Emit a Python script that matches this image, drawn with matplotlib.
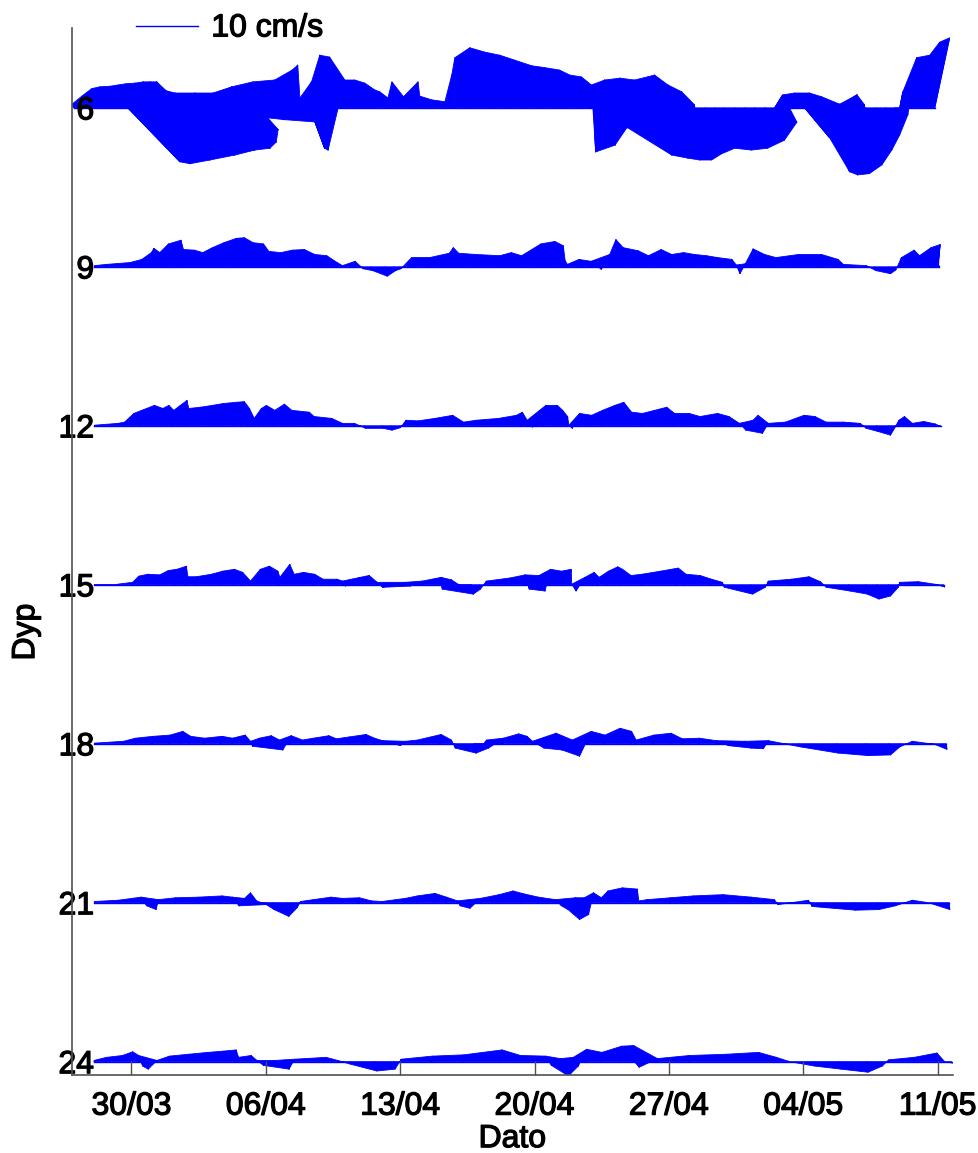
import matplotlib
matplotlib.use("Agg")
import numpy as np
import matplotlib.pyplot as plt
import matplotlib.dates as mdates
import matplotlib.patheffects as pe
from matplotlib.collections import PolyCollection, LineCollection
from matplotlib.transforms import blended_transform_factory
from datetime import datetime

plt.rcParams['font.family'] = ['Liberation Sans', 'DejaVu Sans']

# Current vectors per depth: (days after 27/03, east u [cm/s], north v [cm/s])
STICKS_6 = [
    (0.00, -0.3, 0.6), (0.32, 0.3, 1.9), (0.73, 0.6, 3.1), (1.15, 0.6, 3.4), (1.57, 1.0, 3.5),
    (1.98, 1.0, 3.7), (2.40, 1.0, 3.9), (2.77, 1.3, 4.0), (2.82, 8.4, -8.7), (3.13, 1.5, 4.2),
    (3.34, 8.4, -9.0), (3.55, 1.3, 4.2), (3.76, 10.3, -8.4), (3.96, 1.1, 4.2), (4.22, 12.9, -7.6),
    (4.48, 0.5, 2.9), (4.74, 14.5, -6.8), (5.11, 0.5, 2.4), (5.53, 14.5, -6.5), (6.05, 0.8, 2.4),
    (6.57, 12.3, -5.5), (7.09, 0.5, 2.4), (7.51, 9.7, -3.5), (7.87, 1.1, 3.4), (8.39, 5.3, -1.6),
    (8.91, 1.3, 4.2), (9.43, 3.2, 4.5), (9.80, 3.7, -1.9), (10.11, 3.9, 6.1), (10.47, 3.7, 6.9),
    (10.84, 2.9, 1.6), (11.26, 4.5, -2.3), (11.77, 1.9, 4.2), (12.29, 2.4, -6.5), (12.81, 0.0, 8.5),
    (13.13, 0.6, 8.2), (13.34, -0.3, -6.8), (13.60, 1.6, 4.5), (14.12, 1.6, 4.5), (14.64, 1.6, 4.0),
    (15.16, 1.6, 2.9), (15.68, 0.8, 2.6), (16.20, 0.5, 1.6), (16.57, 0.0, 4.2), (16.98, 0.6, 1.8),
    (17.51, 1.3, 4.2), (18.02, 0.0, 1.9), (18.65, 0.0, 1.3), (19.33, 0.0, 1.0), (19.59, 0.3, 5.3),
    (19.85, 0.0, 8.1), (20.37, 0.8, 9.7), (21.15, 0.8, 9.0), (21.93, 0.8, 8.5), (22.71, 0.8, 7.7),
    (23.49, 1.1, 6.8), (24.27, 0.8, 6.5), (25.05, 0.8, 6.1), (25.58, 0.8, 5.3), (26.25, 0.6, 5.0),
    (26.77, 0.6, 3.7), (27.09, 0.3, -7.1), (27.40, 0.8, 4.5), (27.71, 1.5, -6.0), (28.03, 1.3, 4.8),
    (28.55, 0.8, -3.2), (28.96, 0.8, 4.5), (29.74, 1.6, 5.3), (30.11, -3.9, -3.2), (30.53, 1.3, 3.7),
    (30.79, 1.1, -7.6), (31.15, 1.6, 2.6), (31.57, 1.3, -8.1), (31.98, 1.1, 0.5), (32.35, 0.8, -8.4),
    (32.87, 1.1, -8.4), (33.39, 1.1, -7.4), (33.91, 1.6, -6.5), (34.43, 2.7, -6.8), (34.95, 3.7, -6.5),
    (35.47, 4.8, -5.2), (35.99, 5.2, -2.3), (36.51, 1.3, 2.1), (37.03, 1.6, 2.4), (37.55, 2.4, 2.4),
    (38.08, 4.0, -4.8), (38.44, 1.6, 1.8), (38.96, 2.9, 0.6), (39.48, 2.9, -10.3), (39.80, 3.1, 2.1),
    (40.32, 1.6, -10.8), (40.84, 1.1, 0.5), (41.25, 0.6, -10.6), (41.77, 1.0, -9.2), (42.29, 1.0, -6.8),
    (42.76, 0.8, -4.4), (43.03, 0.5, 2.6), (43.29, 0.5, -1.1), (43.65, 0.8, 8.1), (44.17, 1.3, 8.5),
    (44.59, 1.6, 10.6), (44.85, 2.4, 11.3),
]

STICKS_9 = [
    (1.07, 0.0, 0.2), (1.67, 0.1, 0.4), (2.87, 0.2, 0.7), (3.44, 0.3, 1.2), (3.91, 0.4, 2.3),
    (4.07, 0.3, 3.0), (4.38, 0.3, 2.3), (4.80, 0.4, 3.7), (5.42, 0.5, 4.3), (5.58, 0.4, 2.8),
    (6.15, 0.4, 2.7), (6.62, 0.3, 2.3), (7.09, 0.4, 3.1), (7.66, 0.5, 3.9), (8.30, 0.5, 4.6),
    (8.72, 0.5, 4.7), (9.18, 0.5, 3.9), (9.75, 0.4, 3.7), (10.06, 0.3, 2.5), (10.68, 0.3, 2.3),
    (11.26, 0.4, 2.7), (11.88, 0.4, 2.8), (12.45, 0.3, 2.0), (13.08, 0.3, 1.8), (13.65, 0.2, 0.7),
    (13.96, 0.1, 0.2), (14.59, 0.2, 0.9), (15.00, 0.2, -0.3), (15.47, 0.3, -0.6), (16.20, 0.4, -1.5),
    (16.67, 0.3, -0.6), (16.98, 0.2, -0.3), (17.50, 0.3, 1.5), (18.44, 0.3, 1.5), (19.43, 0.4, 2.2),
    (19.64, 0.4, 3.1), (19.95, 0.3, 2.2), (20.84, 0.3, 2.0), (22.09, 0.3, 1.8), (22.66, 0.4, 2.3),
    (23.23, 0.3, 1.8), (24.17, 0.5, 3.7), (24.90, 0.5, 4.1), (25.37, 0.4, 3.4), (25.53, 0.2, 1.0),
    (25.68, 0.1, 0.4), (26.25, 0.2, 1.2), (26.88, 0.2, 0.9), (27.45, 0.1, -0.4), (27.82, 0.3, 2.0),
    (28.08, 0.5, 4.4), (28.49, 0.4, 3.1), (29.27, 0.4, 2.6), (29.84, 0.3, 1.8), (30.47, 0.4, 2.8),
    (31.05, 0.3, 2.0), (31.67, 0.3, 2.3), (32.24, 0.3, 2.0), (32.87, 0.3, 1.8), (33.44, 0.3, 1.5),
    (34.22, 0.2, 1.2), (34.48, 0.1, 0.3), (34.64, 0.2, -1.1), (34.95, 0.1, 0.5), (35.26, 0.4, 2.9),
    (35.89, 0.3, 2.0), (36.48, 0.3, 1.5), (37.66, 0.3, 2.0), (38.86, 0.3, 2.0), (39.75, 0.2, 1.2),
    (40.06, 0.1, 0.4), (41.26, 0.1, 0.2), (41.72, 0.2, -0.6), (42.45, 0.3, -1.1), (42.76, 0.2, -0.5),
    (43.02, 0.3, 1.5), (43.65, 0.4, 2.7), (43.96, 0.3, 1.8), (44.53, 0.4, 3.1), (45.00, 0.4, 3.6),
    (45.05, 0.0, 0.3),
]

STICKS_12 = [
    (1.07, 0.0, 0.1), (2.28, 0.1, 0.4), (2.61, 0.1, 0.6), (3.03, 0.3, 2.0), (3.44, 0.3, 2.5),
    (4.07, 0.4, 3.3), (4.54, 0.3, 2.8), (4.82, 0.4, 3.3), (5.11, 0.3, 2.5), (5.42, 0.4, 3.3),
    (5.73, 0.5, 4.1), (5.89, 0.3, 2.8), (6.46, 0.4, 3.0), (7.09, 0.4, 3.3), (7.66, 0.4, 3.6),
    (8.30, 0.5, 3.8), (8.72, 0.5, 3.9), (9.02, 0.4, 2.8), (9.33, 0.2, 1.2), (9.64, 0.4, 2.8),
    (9.90, 0.4, 3.3), (10.37, 0.3, 2.5), (10.84, 0.4, 3.5), (11.26, 0.3, 2.5), (12.17, 0.3, 2.2),
    (12.45, 0.2, 1.5), (13.37, 0.2, 1.2), (13.96, 0.1, 0.4), (14.59, 0.1, 0.4), (15.16, 0.1, -0.4),
    (16.05, 0.2, -0.4), (16.51, 0.2, -0.7), (16.98, 0.1, -0.3), (17.24, 0.2, 0.9), (17.87, 0.2, 0.8),
    (18.75, 0.2, 1.2), (19.64, 0.3, 1.7), (20.27, 0.1, 0.6), (20.89, 0.2, 0.9), (22.06, 0.2, 1.2),
    (22.97, 0.3, 1.7), (23.27, 0.3, 2.2), (23.55, 0.2, 0.9), (23.86, 0.1, -0.2), (24.17, 0.3, 2.5),
    (24.46, 0.4, 3.3), (25.06, 0.4, 3.3), (25.37, 0.3, 2.5), (25.66, 0.2, 1.5), (25.79, 0.0, 0.1),
    (25.94, 0.1, -0.4), (26.25, 0.3, 2.0), (26.88, 0.3, 1.7), (27.45, 0.3, 2.5), (28.06, 0.4, 3.3),
    (28.49, 0.5, 3.8), (28.96, 0.3, 2.2), (29.53, 0.3, 2.0), (30.16, 0.3, 2.5), (30.76, 0.4, 3.0),
    (31.20, 0.3, 2.0), (31.96, 0.3, 2.0), (32.56, 0.2, 1.5), (33.44, 0.3, 2.0), (34.07, 0.2, 1.5),
    (34.64, 0.1, 0.4), (34.95, 0.2, -0.7), (35.32, 0.2, 0.9), (35.55, 0.3, 1.7), (35.81, 0.2, -1.2),
    (36.15, 0.1, 0.4), (37.04, 0.1, 0.6), (37.95, 0.3, 1.7), (38.55, 0.2, 1.5), (39.16, 0.1, 0.6),
    (40.06, 0.1, 0.6), (40.94, 0.1, 0.4), (41.25, 0.1, -0.4), (41.82, 0.2, -0.9), (42.45, 0.3, -1.5),
    (42.76, 0.1, -0.2), (42.92, 0.2, 0.9), (43.21, 0.2, 1.5), (43.65, 0.1, 0.4), (44.25, 0.1, 0.7),
    (44.85, 0.1, 0.3), (45.16, 0.0, -0.1),
]

STICKS_15 = [
    (1.07, 0.0, 0.1), (2.28, 0.0, 0.1), (3.03, 0.1, 0.4), (3.32, 0.2, 1.4), (3.76, 0.3, 1.7),
    (4.38, 0.3, 1.6), (4.82, 0.3, 2.3), (5.27, 0.3, 2.5), (5.73, 0.4, 3.0), (5.88, 0.2, 1.3),
    (6.31, 0.2, 1.3), (7.07, 0.3, 1.7), (7.66, 0.3, 2.2), (8.27, 0.3, 2.5), (8.70, 0.3, 2.0),
    (9.17, 0.1, 0.6), (9.62, 0.3, 2.5), (10.06, 0.4, 3.0), (10.53, 0.3, 2.2), (10.67, 0.2, 1.2),
    (11.12, 0.4, 3.3), (11.41, 0.2, 1.7), (11.87, 0.3, 2.0), (12.45, 0.3, 1.7), (12.92, 0.2, 0.9),
    (13.65, 0.2, 0.9), (13.96, 0.1, 0.6), (14.12, 0.1, -0.2), (14.85, 0.2, 1.2), (15.32, 0.2, 1.5),
    (15.77, 0.1, 0.4), (16.05, 0.1, -0.4), (17.24, 0.1, 0.4), (17.50, 0.1, -0.2), (18.13, 0.1, 0.6),
    (19.07, 0.2, 1.2), (19.17, 0.1, -0.7), (19.64, 0.1, 0.8), (20.71, 0.3, -1.5), (21.15, 0.1, -0.7),
    (21.46, 0.1, 0.6), (22.66, 0.2, 1.1), (23.41, 0.3, 1.6), (23.70, 0.1, -0.7), (24.17, 0.2, 1.5),
    (24.48, 0.2, -1.0), (24.74, 0.3, 2.5), (25.31, 0.3, 2.2), (25.81, 0.3, 2.5), (25.94, 0.0, 0.1),
    (26.10, 0.2, -1.0), (26.56, 0.2, 1.2), (27.01, 0.3, 2.0), (27.30, 0.2, 1.2), (27.76, 0.3, 2.2),
    (28.21, 0.4, 2.9), (28.49, 0.3, 2.5), (28.96, 0.2, 1.5), (29.53, 0.2, 1.7), (30.47, 0.3, 2.2),
    (31.36, 0.4, 2.7), (31.83, 0.2, 1.7), (32.56, 0.2, 1.5), (33.19, 0.1, 0.9), (33.76, 0.1, 0.4),
    (33.86, 0.1, -0.4), (35.26, 0.3, -1.5), (35.99, 0.1, -0.4), (36.15, 0.1, 0.6), (37.35, 0.1, 0.9),
    (38.24, 0.2, 1.3), (38.86, 0.1, 0.5), (39.17, 0.1, -0.4), (40.37, 0.2, -1.0), (41.27, 0.2, -1.5),
    (41.85, 0.3, -2.3), (42.45, 0.3, -1.8), (42.92, 0.1, -0.4), (43.00, 0.1, 0.4), (43.96, 0.1, 0.5),
    (44.85, 0.0, 0.1), (45.32, 0.0, -0.3),
]

STICKS_18 = [
    (1.07, 0.0, 0.1), (2.56, 0.1, 0.4), (3.18, 0.1, 0.9), (4.07, 0.2, 1.2), (4.95, 0.2, 1.4),
    (5.58, 0.3, 2.0), (6.02, 0.2, 1.2), (6.78, 0.1, 0.9), (7.66, 0.2, 1.2), (8.23, 0.1, 0.9),
    (8.86, 0.2, 1.4), (9.17, 0.1, 0.4), (9.28, 0.1, -0.4), (9.64, 0.1, 0.9), (10.22, 0.2, 1.3),
    (10.68, 0.1, 0.6), (10.82, 0.2, -1.0), (11.26, 0.2, 1.3), (11.88, 0.1, 0.6), (12.45, 0.1, 0.9),
    (13.22, 0.2, 1.3), (13.65, 0.1, 0.8), (14.28, 0.2, 1.1), (15.16, 0.2, 1.5), (15.63, 0.1, 0.9),
    (16.05, 0.1, 0.5), (16.98, 0.1, -0.3), (17.24, 0.1, 0.4), (17.87, 0.1, 0.6), (19.07, 0.2, 1.5),
    (19.64, 0.1, 0.6), (19.84, 0.1, -0.7), (20.86, 0.3, -1.5), (21.47, 0.1, 0.6), (21.57, 0.1, -0.7),
    (22.35, 0.1, 0.9), (23.11, 0.2, 1.6), (23.55, 0.2, 1.2), (23.86, 0.1, 0.4), (24.46, 0.1, -0.7),
    (25.06, 0.2, 1.7), (25.37, 0.2, -1.0), (25.94, 0.1, 0.6), (26.25, 0.3, -2.0), (26.86, 0.3, 2.0),
    (27.61, 0.2, 1.4), (28.36, 0.3, 2.5), (28.96, 0.3, 2.0), (29.26, 0.1, 0.6), (30.16, 0.2, 1.4),
    (31.05, 0.2, 1.7), (31.67, 0.1, 0.8), (32.56, 0.1, 0.9), (33.44, 0.1, 0.5), (34.07, 0.1, -0.3),
    (34.95, 0.1, 0.4), (35.26, 0.1, -0.7), (35.89, 0.1, -0.8), (36.15, 0.1, 0.5), (37.82, 0.1, -0.5),
    (39.75, 0.2, -1.5), (41.27, 0.3, -1.9), (42.45, 0.3, -1.8), (43.00, 0.1, -0.5), (43.65, 0.1, 0.4),
    (44.85, 0.0, -0.1), (45.45, 0.1, -0.9),
]

STICKS_21 = [
    (1.07, 0.0, 0.2), (2.28, 0.1, 0.4), (3.47, 0.1, 0.9), (3.76, 0.1, -0.5), (4.22, 0.2, -1.1),
    (4.38, 0.1, 0.5), (5.27, 0.1, 0.8), (6.46, 0.1, 0.9), (7.66, 0.2, 1.1), (8.23, 0.1, 0.9),
    (8.57, 0.1, -0.5), (8.86, 0.1, 0.7), (9.17, 0.1, 1.6), (9.49, 0.1, 0.3), (9.99, 0.1, -0.3),
    (10.37, 0.2, -1.1), (11.10, 0.3, -2.2), (11.57, 0.2, -0.8), (11.78, 0.1, 0.2), (12.45, 0.1, 0.5),
    (13.37, 0.1, 0.9), (13.96, 0.1, 0.7), (14.85, 0.1, 0.8), (15.47, 0.1, 0.3), (16.05, 0.0, 0.2),
    (17.24, 0.1, 0.7), (17.87, 0.1, 1.1), (18.75, 0.2, 1.5), (19.38, 0.1, 0.9), (19.95, 0.1, 0.3),
    (20.10, 0.1, -0.5), (20.57, 0.2, -0.9), (21.15, 0.1, 0.7), (22.09, 0.2, 1.3), (22.82, 0.2, 1.9),
    (23.29, 0.2, 1.5), (24.17, 0.1, 0.9), (25.06, 0.1, 0.5), (25.37, 0.1, -0.5), (25.68, 0.2, -1.1),
    (26.10, 0.1, 0.8), (26.25, 0.3, -2.7), (26.56, 0.1, 0.8), (26.72, 0.3, -1.9), (27.01, 0.2, 1.6),
    (27.45, 0.1, 0.8), (27.76, 0.2, 1.9), (28.49, 0.3, 2.4), (29.26, 0.3, 2.2), (29.43, 0.0, 0.3),
    (29.84, 0.1, 0.5), (31.05, 0.1, 0.8), (32.24, 0.1, 1.1), (33.76, 0.2, 1.3), (35.26, 0.1, 0.9),
    (36.46, 0.1, 0.5), (36.66, 0.1, -0.3), (38.24, 0.1, 0.4), (38.43, 0.1, -0.6), (39.16, 0.1, -0.8),
    (40.66, 0.2, -1.2), (41.88, 0.2, -1.1), (42.76, 0.1, -0.5), (43.65, 0.1, 0.4), (44.53, 0.0, 0.0),
    (45.60, 0.1, -1.1),
]

STICKS_24 = [
    (1.05, 0.0, 0.2), (1.67, 0.1, 0.7), (2.50, 0.1, 1.0), (3.00, 0.2, 1.6), (3.34, 0.1, 1.0),
    (3.55, 0.1, -0.7), (3.81, 0.2, -1.2), (4.33, 0.0, 0.2), (4.95, 0.1, 0.9), (5.94, 0.1, 1.2),
    (6.91, 0.2, 1.5), (7.71, 0.2, 1.7), (8.39, 0.2, 1.9), (8.55, 0.1, 0.7), (9.20, 0.1, 1.0),
    (9.54, 0.0, 0.2), (9.85, 0.1, -0.6), (10.47, 0.0, 0.2), (11.15, 0.2, -1.2), (11.46, 0.1, 0.4),
    (13.11, 0.1, 0.7), (13.75, 0.0, 0.2), (14.38, 0.1, -0.4), (15.72, 0.2, -1.5), (16.67, 0.2, -1.2),
    (17.02, 0.1, 0.4), (18.65, 0.1, 0.9), (20.27, 0.1, 1.1), (22.25, 0.2, 1.9), (23.24, 0.1, 1.0),
    (24.54, 0.1, 0.9), (24.85, 0.1, -0.6), (25.32, 0.1, 0.5), (25.67, 0.3, -2.3), (25.99, 0.1, 0.7),
    (26.25, 0.1, -0.7), (26.65, 0.2, 2.0), (27.45, 0.2, 1.5), (28.44, 0.3, 2.5), (29.07, 0.3, 2.6),
    (29.23, 0.0, -0.1), (29.42, 0.1, -0.9), (30.37, 0.1, 0.5), (32.04, 0.1, 1.0), (33.96, 0.1, 1.2),
    (35.61, 0.2, 1.5), (36.57, 0.1, 0.7), (37.30, 0.0, 0.0), (38.55, 0.1, -0.7), (39.90, 0.2, -1.2),
    (41.31, 0.2, -1.7), (42.09, 0.1, -0.7), (42.45, 0.0, 0.3), (43.75, 0.1, 0.7), (44.90, 0.2, 1.4),
    (45.37, 0.0, 0.0), (45.73, 0.0, -0.2),
]

DEPTHS = [6, 9, 12, 15, 18, 21, 24]
SERIES = [STICKS_6, STICKS_9, STICKS_12, STICKS_15, STICKS_18, STICKS_21, STICKS_24]
START = datetime(2014, 3, 27)
TICK_DATES = [datetime(2014, 3, 30), datetime(2014, 4, 6), datetime(2014, 4, 13),
              datetime(2014, 4, 20), datetime(2014, 4, 27), datetime(2014, 5, 4),
              datetime(2014, 5, 11)]
SCALE_SPEED = 10  # cm/s shown by the scale bar

BLUE = '#0000ff'
FS = 23
HEAVY = [pe.withStroke(linewidth=0.9, foreground='black')]

fig = plt.figure(figsize=(9.79, 11.53), dpi=100)
ax = fig.add_axes([0.0735, 0.0677, 0.8999, 0.9081])
t0 = mdates.date2num(START)
ax.set_xlim(t0 - 0.1, t0 + 45.8)
ax.set_ylim(24.25, 4.49)

# pixel length of 1 cm/s, identical along both axes
PX_PER_CMS = 6.2
bbox = ax.get_window_extent()
x0, x1 = ax.get_xlim()
y0, y1 = ax.get_ylim()
sx = PX_PER_CMS / (bbox.width / (x1 - x0))
sy = PX_PER_CMS / (bbox.height / abs(y1 - y0))
MAX_GAP = 1.6  # days; same-direction sticks closer than this are swept together


def quad(t, xt, yt, depth, a, b):
    return [(t[a], depth), (xt[a], yt[a]), (xt[b], yt[b]), (t[b], depth)]


for depth, sticks in zip(DEPTHS, SERIES):
    d, u, v = (np.array(a, dtype=float) for a in zip(*sticks))
    t = t0 + d
    xt = t + u * sx
    yt = depth - v * sy
    n = len(t)
    # area swept between consecutive sticks
    polys = [quad(t, xt, yt, depth, i, i + 1) for i in range(n - 1)]
    # flood/ebb sticks swept across short reversals
    for sign in (1, -1):
        idx = [i for i in range(n) if sign * v[i] > 0]
        for a, b in zip(idx[:-1], idx[1:]):
            if b - a > 1 and t[b] - t[a] <= MAX_GAP:
                polys.append(quad(t, xt, yt, depth, a, b))
    ax.add_collection(PolyCollection(polys, facecolors=BLUE, edgecolors=BLUE,
                                     linewidths=0.6, zorder=1))
    segs = [[(t[i], depth), (xt[i], yt[i])] for i in range(n)]
    ax.add_collection(LineCollection(segs, colors=BLUE, linewidths=0.8, zorder=1))
    ax.plot([t[0], t[-1]], [depth, depth], color=BLUE, lw=1.0, zorder=1)

# scale bar
trans = blended_transform_factory(ax.transData, ax.transAxes)
xs = t0 + 3.23
ax.plot([xs, xs + SCALE_SPEED * sx], [1.002, 1.002], color=BLUE, lw=1.0,
        transform=trans, clip_on=False)
ax.text(xs + SCALE_SPEED * sx + 0.7, 0.9995, f'{SCALE_SPEED} cm/s', transform=trans,
        fontsize=FS, va='center', ha='left', clip_on=False, path_effects=HEAVY)

# axes styling
for side in ('top', 'right'):
    ax.spines[side].set_visible(False)
for side in ('left', 'bottom'):
    ax.spines[side].set_color('#505050')
    ax.spines[side].set_linewidth(1.2)

ax.set_xticks([mdates.date2num(dt) for dt in TICK_DATES])
ax.xaxis.set_major_formatter(mdates.DateFormatter('%d/%m'))
ax.tick_params(axis='x', direction='in', length=10, width=1.0, color='#505050',
               pad=12, labelsize=FS)
ax.set_yticks(DEPTHS)
ax.set_yticklabels([str(dp) for dp in DEPTHS])
ax.tick_params(axis='y', length=0, pad=-16, labelsize=FS)

ax.set_xlabel('Dato', fontsize=FS, path_effects=HEAVY)
ax.xaxis.set_label_coords(0.5, -0.047)
ax.set_ylabel('Dyp', fontsize=FS, path_effects=HEAVY)
ax.yaxis.set_label_coords(-0.035, 0.423)

fig.canvas.draw()
for lbl in ax.get_xticklabels() + ax.get_yticklabels():
    lbl.set_path_effects(HEAVY)

fig.savefig('out.png', dpi=100)
